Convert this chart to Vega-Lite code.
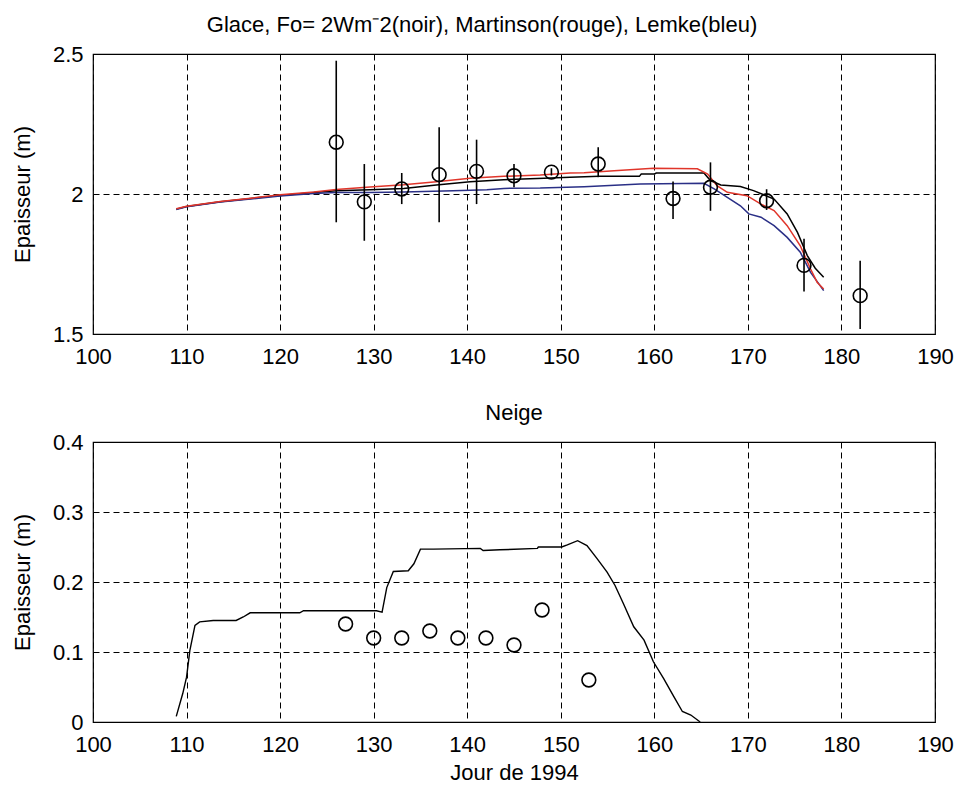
{
  "$schema": "https://vega.github.io/schema/vega-lite/v6.json",
  "padding": {"left": 10, "top": 13, "right": 0, "bottom": 0},
  "autosize": {"type": "pad"},
  "background": "white",
  "bounds": "flush",
  "spacing": 108,
  "config": {
    "font": "Liberation Sans",
    "view": {"stroke": "black", "strokeWidth": 1.2},
    "axis": {
      "grid": true, "gridColor": "black", "gridDash": [6, 4], "gridOpacity": 1, "gridWidth": 1,
      "domain": false, "ticks": false,
      "labelFont": "Liberation Sans", "labelFontSize": 22, "labelColor": "black",
      "titleFont": "Liberation Sans", "titleFontSize": 22, "titleFontWeight": "normal", "titleColor": "black",
      "labelOverlap": false, "labelFlush": false, "labelBound": false
    },
    "axisX": {"labelPadding": 12},
    "axisY": {"labelPadding": 10},
    "title": {"font": "Liberation Sans", "fontSize": 22, "fontWeight": "normal", "color": "black"}
  },
  "datasets": {
    "ice_models": [
      {"day": 108.9, "thickness": 1.946, "model": "Fo=2 (noir)"},
      {"day": 110.0, "thickness": 1.955, "model": "Fo=2 (noir)"},
      {"day": 113.6, "thickness": 1.972, "model": "Fo=2 (noir)"},
      {"day": 117.1, "thickness": 1.985, "model": "Fo=2 (noir)"},
      {"day": 120.0, "thickness": 1.995, "model": "Fo=2 (noir)"},
      {"day": 123.6, "thickness": 2.005, "model": "Fo=2 (noir)"},
      {"day": 126.0, "thickness": 2.012, "model": "Fo=2 (noir)"},
      {"day": 129.6, "thickness": 2.015, "model": "Fo=2 (noir)"},
      {"day": 133.2, "thickness": 2.020, "model": "Fo=2 (noir)"},
      {"day": 136.7, "thickness": 2.032, "model": "Fo=2 (noir)"},
      {"day": 140.3, "thickness": 2.044, "model": "Fo=2 (noir)"},
      {"day": 143.9, "thickness": 2.051, "model": "Fo=2 (noir)"},
      {"day": 147.5, "thickness": 2.055, "model": "Fo=2 (noir)"},
      {"day": 151.0, "thickness": 2.060, "model": "Fo=2 (noir)"},
      {"day": 154.1, "thickness": 2.063, "model": "Fo=2 (noir)"},
      {"day": 158.4, "thickness": 2.063, "model": "Fo=2 (noir)"},
      {"day": 158.6, "thickness": 2.071, "model": "Fo=2 (noir)"},
      {"day": 160.0, "thickness": 2.071, "model": "Fo=2 (noir)"},
      {"day": 160.2, "thickness": 2.075, "model": "Fo=2 (noir)"},
      {"day": 165.3, "thickness": 2.075, "model": "Fo=2 (noir)"},
      {"day": 166.0, "thickness": 2.048, "model": "Fo=2 (noir)"},
      {"day": 167.1, "thickness": 2.032, "model": "Fo=2 (noir)"},
      {"day": 169.2, "thickness": 2.027, "model": "Fo=2 (noir)"},
      {"day": 170.6, "thickness": 2.012, "model": "Fo=2 (noir)"},
      {"day": 172.8, "thickness": 1.982, "model": "Fo=2 (noir)"},
      {"day": 174.2, "thickness": 1.929, "model": "Fo=2 (noir)"},
      {"day": 175.3, "thickness": 1.863, "model": "Fo=2 (noir)"},
      {"day": 176.35, "thickness": 1.780, "model": "Fo=2 (noir)"},
      {"day": 177.2, "thickness": 1.735, "model": "Fo=2 (noir)"},
      {"day": 178.1, "thickness": 1.703, "model": "Fo=2 (noir)"},
      {"day": 108.9, "thickness": 1.947, "model": "Martinson (rouge)"},
      {"day": 110.0, "thickness": 1.956, "model": "Martinson (rouge)"},
      {"day": 113.6, "thickness": 1.973, "model": "Martinson (rouge)"},
      {"day": 117.1, "thickness": 1.986, "model": "Martinson (rouge)"},
      {"day": 120.0, "thickness": 1.997, "model": "Martinson (rouge)"},
      {"day": 123.6, "thickness": 2.007, "model": "Martinson (rouge)"},
      {"day": 126.0, "thickness": 2.016, "model": "Martinson (rouge)"},
      {"day": 129.6, "thickness": 2.025, "model": "Martinson (rouge)"},
      {"day": 133.2, "thickness": 2.033, "model": "Martinson (rouge)"},
      {"day": 136.7, "thickness": 2.044, "model": "Martinson (rouge)"},
      {"day": 140.3, "thickness": 2.056, "model": "Martinson (rouge)"},
      {"day": 143.9, "thickness": 2.063, "model": "Martinson (rouge)"},
      {"day": 147.8, "thickness": 2.068, "model": "Martinson (rouge)"},
      {"day": 151.0, "thickness": 2.075, "model": "Martinson (rouge)"},
      {"day": 152.5, "thickness": 2.076, "model": "Martinson (rouge)"},
      {"day": 155.7, "thickness": 2.083, "model": "Martinson (rouge)"},
      {"day": 159.9, "thickness": 2.092, "model": "Martinson (rouge)"},
      {"day": 164.6, "thickness": 2.090, "model": "Martinson (rouge)"},
      {"day": 165.7, "thickness": 2.071, "model": "Martinson (rouge)"},
      {"day": 166.7, "thickness": 2.030, "model": "Martinson (rouge)"},
      {"day": 167.8, "thickness": 2.006, "model": "Martinson (rouge)"},
      {"day": 169.9, "thickness": 1.994, "model": "Martinson (rouge)"},
      {"day": 171.4, "thickness": 1.964, "model": "Martinson (rouge)"},
      {"day": 172.8, "thickness": 1.941, "model": "Martinson (rouge)"},
      {"day": 174.2, "thickness": 1.887, "model": "Martinson (rouge)"},
      {"day": 175.6, "thickness": 1.815, "model": "Martinson (rouge)"},
      {"day": 176.7, "thickness": 1.732, "model": "Martinson (rouge)"},
      {"day": 177.4, "thickness": 1.685, "model": "Martinson (rouge)"},
      {"day": 178.1, "thickness": 1.661, "model": "Martinson (rouge)"},
      {"day": 108.9, "thickness": 1.945, "model": "Lemke (bleu)"},
      {"day": 110.0, "thickness": 1.954, "model": "Lemke (bleu)"},
      {"day": 113.6, "thickness": 1.971, "model": "Lemke (bleu)"},
      {"day": 117.1, "thickness": 1.983, "model": "Lemke (bleu)"},
      {"day": 120.0, "thickness": 1.993, "model": "Lemke (bleu)"},
      {"day": 123.6, "thickness": 2.002, "model": "Lemke (bleu)"},
      {"day": 126.0, "thickness": 2.005, "model": "Lemke (bleu)"},
      {"day": 129.6, "thickness": 2.005, "model": "Lemke (bleu)"},
      {"day": 133.2, "thickness": 2.007, "model": "Lemke (bleu)"},
      {"day": 138.5, "thickness": 2.012, "model": "Lemke (bleu)"},
      {"day": 142.1, "thickness": 2.015, "model": "Lemke (bleu)"},
      {"day": 143.9, "thickness": 2.020, "model": "Lemke (bleu)"},
      {"day": 147.8, "thickness": 2.021, "model": "Lemke (bleu)"},
      {"day": 152.5, "thickness": 2.026, "model": "Lemke (bleu)"},
      {"day": 158.5, "thickness": 2.036, "model": "Lemke (bleu)"},
      {"day": 165.3, "thickness": 2.038, "model": "Lemke (bleu)"},
      {"day": 166.4, "thickness": 2.018, "model": "Lemke (bleu)"},
      {"day": 167.8, "thickness": 1.988, "model": "Lemke (bleu)"},
      {"day": 169.2, "thickness": 1.958, "model": "Lemke (bleu)"},
      {"day": 170.1, "thickness": 1.929, "model": "Lemke (bleu)"},
      {"day": 171.4, "thickness": 1.917, "model": "Lemke (bleu)"},
      {"day": 172.8, "thickness": 1.887, "model": "Lemke (bleu)"},
      {"day": 174.2, "thickness": 1.845, "model": "Lemke (bleu)"},
      {"day": 175.6, "thickness": 1.792, "model": "Lemke (bleu)"},
      {"day": 176.7, "thickness": 1.720, "model": "Lemke (bleu)"},
      {"day": 178.1, "thickness": 1.655, "model": "Lemke (bleu)"}
    ],
    "ice_obs": [
      {"day": 126, "thickness": 2.185, "low": 1.899, "high": 2.476},
      {"day": 129, "thickness": 1.972, "low": 1.833, "high": 2.107},
      {"day": 133, "thickness": 2.018, "low": 1.964, "high": 2.075},
      {"day": 137, "thickness": 2.069, "low": 1.899, "high": 2.238},
      {"day": 141, "thickness": 2.081, "low": 1.964, "high": 2.194},
      {"day": 145, "thickness": 2.065, "low": 2.024, "high": 2.107},
      {"day": 149, "thickness": 2.078, "low": 2.066, "high": 2.092},
      {"day": 154, "thickness": 2.107, "low": 2.060, "high": 2.167},
      {"day": 162, "thickness": 1.984, "low": 1.911, "high": 2.045},
      {"day": 166, "thickness": 2.024, "low": 1.940, "high": 2.113},
      {"day": 172, "thickness": 1.976, "low": 1.943, "high": 2.017},
      {"day": 176, "thickness": 1.745, "low": 1.652, "high": 1.840},
      {"day": 182, "thickness": 1.637, "low": 1.518, "high": 1.762}
    ],
    "snow_model": [
      {"day": 108.9, "thickness": 0.008},
      {"day": 109.6, "thickness": 0.041},
      {"day": 110.0, "thickness": 0.064},
      {"day": 110.35, "thickness": 0.102},
      {"day": 110.9, "thickness": 0.138},
      {"day": 111.4, "thickness": 0.143},
      {"day": 112.85, "thickness": 0.145},
      {"day": 115.3, "thickness": 0.145},
      {"day": 116.06, "thickness": 0.150},
      {"day": 116.8, "thickness": 0.156},
      {"day": 122.1, "thickness": 0.156},
      {"day": 122.5, "thickness": 0.159},
      {"day": 130.3, "thickness": 0.159},
      {"day": 130.9, "thickness": 0.157},
      {"day": 131.4, "thickness": 0.192},
      {"day": 132.1, "thickness": 0.215},
      {"day": 133.7, "thickness": 0.216},
      {"day": 134.3, "thickness": 0.226},
      {"day": 135.0, "thickness": 0.247},
      {"day": 136.4, "thickness": 0.247},
      {"day": 141.4, "thickness": 0.248},
      {"day": 141.7, "thickness": 0.245},
      {"day": 143.5, "thickness": 0.246},
      {"day": 147.5, "thickness": 0.248},
      {"day": 147.6, "thickness": 0.250},
      {"day": 150.1, "thickness": 0.250},
      {"day": 150.7, "thickness": 0.253},
      {"day": 151.8, "thickness": 0.259},
      {"day": 152.8, "thickness": 0.252},
      {"day": 153.9, "thickness": 0.233},
      {"day": 154.95, "thickness": 0.214},
      {"day": 155.8, "thickness": 0.195},
      {"day": 156.7, "thickness": 0.169},
      {"day": 157.8, "thickness": 0.136},
      {"day": 158.9, "thickness": 0.117},
      {"day": 159.9, "thickness": 0.086},
      {"day": 161.0, "thickness": 0.062},
      {"day": 162.1, "thickness": 0.036},
      {"day": 163.0, "thickness": 0.015},
      {"day": 163.9, "thickness": 0.010},
      {"day": 164.9, "thickness": 0.0}
    ],
    "snow_obs": [
      {"day": 127, "thickness": 0.14},
      {"day": 130, "thickness": 0.12},
      {"day": 133, "thickness": 0.12},
      {"day": 136, "thickness": 0.13},
      {"day": 139, "thickness": 0.12},
      {"day": 142, "thickness": 0.12},
      {"day": 145, "thickness": 0.11},
      {"day": 148, "thickness": 0.16},
      {"day": 153, "thickness": 0.06}
    ]
  },
  "vconcat": [
    {
      "width": 842,
      "height": 280,
      "title": {"text": "Glace, Fo= 2Wm⁻2(noir), Martinson(rouge), Lemke(bleu)", "dx": -32, "offset": 6},
      "layer": [
        {
          "data": {"name": "ice_models"},
          "transform": [{"filter": "datum.model === 'Fo=2 (noir)'"}],
          "mark": {"type": "line", "color": "black", "strokeWidth": 1.5},
          "encoding": {
            "x": {"field": "day", "type": "quantitative", "scale": {"domain": [100, 190], "nice": false, "zero": false},
                  "axis": {"values": [100, 110, 120, 130, 140, 150, 160, 170, 180, 190], "format": "d", "title": null}},
            "y": {"field": "thickness", "type": "quantitative", "scale": {"domain": [1.5, 2.5], "nice": false, "zero": false},
                  "axis": {"values": [1.5, 2, 2.5], "format": "~g", "title": "Epaisseur (m)", "titlePadding": 18}}
          }
        },
        {
          "data": {"name": "ice_models"},
          "transform": [{"filter": "datum.model === 'Lemke (bleu)'"}],
          "mark": {"type": "line", "color": "#2a2f86", "strokeWidth": 1.5},
          "encoding": {
            "x": {"field": "day", "type": "quantitative"},
            "y": {"field": "thickness", "type": "quantitative"}
          }
        },
        {
          "data": {"name": "ice_models"},
          "transform": [{"filter": "datum.model === 'Martinson (rouge)'"}],
          "mark": {"type": "line", "color": "#e0352a", "strokeWidth": 1.5},
          "encoding": {
            "x": {"field": "day", "type": "quantitative"},
            "y": {"field": "thickness", "type": "quantitative"}
          }
        },
        {
          "data": {"name": "ice_obs"},
          "mark": {"type": "rule", "color": "black", "strokeWidth": 1.6},
          "encoding": {
            "x": {"field": "day", "type": "quantitative"},
            "y": {"field": "low", "type": "quantitative"},
            "y2": {"field": "high"}
          }
        },
        {
          "data": {"name": "ice_obs"},
          "mark": {"type": "point", "filled": false, "color": "black", "strokeWidth": 1.6, "size": 190, "opacity": 1},
          "encoding": {
            "x": {"field": "day", "type": "quantitative"},
            "y": {"field": "thickness", "type": "quantitative"}
          }
        }
      ]
    },
    {
      "width": 842,
      "height": 280,
      "title": {"text": "Neige", "offset": 6},
      "layer": [
        {
          "data": {"name": "snow_model"},
          "mark": {"type": "line", "color": "black", "strokeWidth": 1.4},
          "encoding": {
            "x": {"field": "day", "type": "quantitative", "scale": {"domain": [100, 190], "nice": false, "zero": false},
                  "axis": {"values": [100, 110, 120, 130, 140, 150, 160, 170, 180, 190], "format": "d", "title": "Jour de 1994", "titlePadding": 7}},
            "y": {"field": "thickness", "type": "quantitative", "scale": {"domain": [0, 0.4], "nice": false},
                  "axis": {"values": [0, 0.1, 0.2, 0.3, 0.4], "format": "~g", "title": "Epaisseur (m)", "titlePadding": 18}}
          }
        },
        {
          "data": {"name": "snow_obs"},
          "mark": {"type": "point", "filled": false, "color": "black", "strokeWidth": 1.6, "size": 190, "opacity": 1},
          "encoding": {
            "x": {"field": "day", "type": "quantitative"},
            "y": {"field": "thickness", "type": "quantitative"}
          }
        }
      ]
    }
  ]
}
